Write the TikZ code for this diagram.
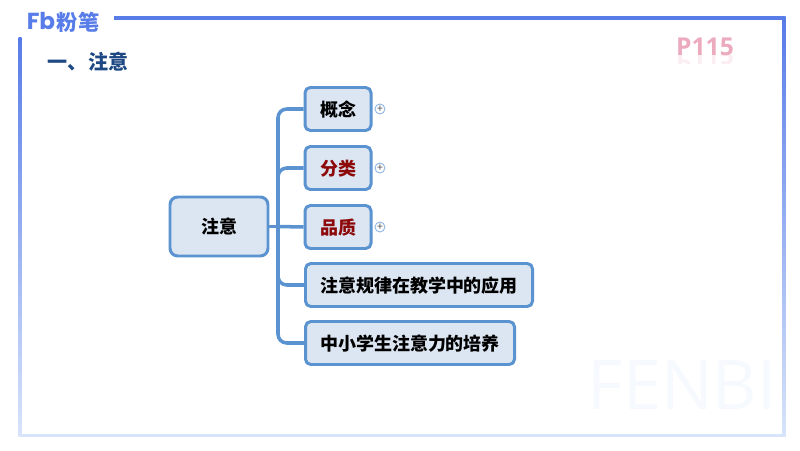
\documentclass[tikz,border=0pt]{standalone}
\usepackage{fontspec}
\setmainfont{Noto Sans CJK SC}
\newfontfamily\latinfont{Open Sans}
\newfontfamily\logofont{Poppins}
\definecolor{framecolor}{RGB}{88,124,232}
\definecolor{framepale}{RGB}{216,228,250}
\definecolor{boxfill}{RGB}{220,230,242}
\definecolor{boxline}{RGB}{91,147,208}
\definecolor{titlecolor}{RGB}{30,72,132}
\definecolor{redtext}{RGB}{140,10,10}
\definecolor{pagecolor}{RGB}{236,170,190}
\tikzset{
	topicbox/.style={draw=boxline,fill=boxfill,line width=0.85pt,rounded corners=1.5pt,inner sep=0pt,text height=4.6pt,text depth=0.4pt,font=\fontsize{5.12}{6}\selectfont\bfseries,text=black},
	link/.style={draw=boxline,line width=1pt,rounded corners=2.5pt},
	expander/.style={circle,draw=boxline!70,fill=white,line width=0.25pt,minimum size=0.1cm,inner sep=0pt,font=\fontsize{3}{3}\selectfont,text=black!70}
}

\begin{document}
\begin{tikzpicture}
	\useasboundingbox (0,0) rectangle (8,4.5);

	%Frame
	\fill [framecolor] (1.14,4.3) rectangle (7.85,4.335);
	\shade [top color=framecolor,bottom color=framepale] (7.825,0.14) rectangle (7.855,4.33);
	\shade [top color=framecolor,bottom color=framepale] (0.185,0.14) rectangle (0.215,4.12);
	\fill [framepale] (0.185,0.135) rectangle (7.855,0.165);

	%Logo and title
	\node (logo) at (0.41,4.285) {\logofont\fontsize{6.6}{7}\selectfont\bfseries\textcolor{framecolor}{Fb}};
	\node (logotext) at (0.78,4.28) {\fontsize{6.05}{7}\selectfont\bfseries\textcolor{framecolor}{粉笔}};
	\node (title) at (0.88,3.88) {\fontsize{5.7}{7}\selectfont\bfseries\textcolor{titlecolor}{一、注意}};

	%Page mark
	\node (page) at (7.05,4.03) {\latinfont\fontsize{7}{8}\selectfont\bfseries\textcolor{pagecolor}{P115}};
	\begin{scope}
		\clip (6.7,3.86) rectangle (7.4,3.95);
		\node (pageshadow) [yscale=-1,opacity=0.2] at (7.05,3.88) {\latinfont\fontsize{7}{8}\selectfont\bfseries\textcolor{pagecolor}{P115}};
	\end{scope}

	%Watermark
	\node (mark) at (6.82,0.65) {\latinfont\fontsize{19.5}{20}\selectfont\textcolor{framepale!22}{FENBI}};

	%Topics
	\node [topicbox,minimum width=0.98cm,minimum height=0.59cm,rounded corners=2.2pt] (attention) at (2.19,2.235) {注意};
	\node [topicbox,minimum width=0.66cm,minimum height=0.43cm] (concept) at (3.38,3.41) {概念};
	\node [topicbox,minimum width=0.66cm,minimum height=0.43cm,text=redtext] (types) at (3.38,2.82) {分类};
	\node [topicbox,minimum width=0.66cm,minimum height=0.43cm,text=redtext] (quality) at (3.38,2.23) {品质};
	\node [topicbox,minimum width=2.27cm,minimum height=0.43cm] (rules) at (4.19,1.65) {注意规律在教学中的应用};
	\node [topicbox,minimum width=2.09cm,minimum height=0.43cm] (training) at (4.10,1.07) {中小学生注意力的培养};

	%Links
	\coordinate (trunk) at (2.78,2.235);
	\draw [link] (attention.east) -- (trunk);
	\draw [link] (quality.west) -- (trunk);
	\foreach \topic in {concept,types,rules,training}{
		\draw [link] (trunk) |- (\topic.west);
	}

	%Expanders
	\foreach \topic in {concept,types,quality}{
		\node [expander,right=0.02cm] (\topic more) at (\topic.east) {+};
	}
\end{tikzpicture}
\end{document}
